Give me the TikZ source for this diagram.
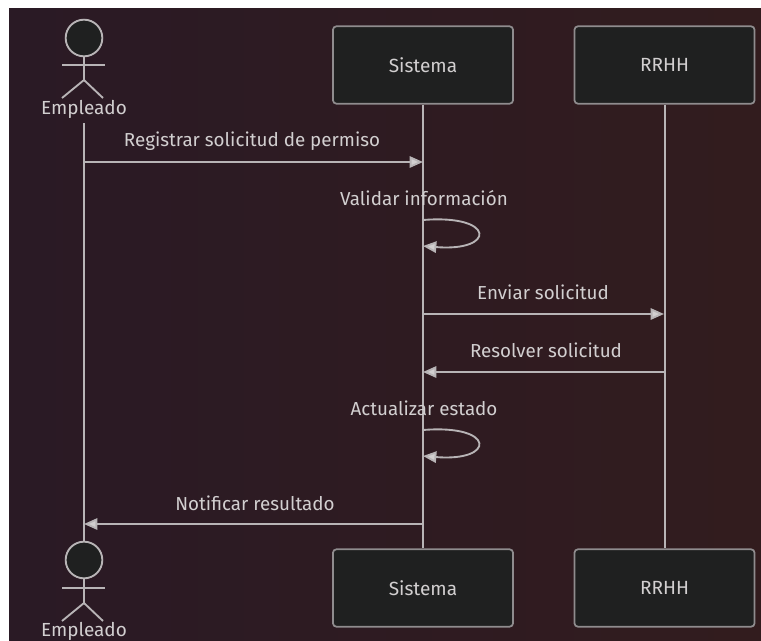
\documentclass[tikz,border=0pt]{standalone}
\usepackage{xcolor}
\usepackage{fontspec}
\setmainfont{Fira Sans}
\usetikzlibrary{arrows.meta}
\definecolor{bgleft}{HTML}{2A1A25}
\definecolor{bgright}{HTML}{321C1E}
\definecolor{boxfill}{HTML}{1F2020}
\definecolor{linegray}{HTML}{B8B4B6}
\definecolor{boxline}{HTML}{8F8C8E}
\definecolor{textgray}{HTML}{D2CFD0}
\tikzset{
    actorbox/.style={draw=boxline,fill=boxfill,line width=1.3pt,rounded corners=2.5pt,minimum width=135pt,minimum height=58pt,text=textgray,font=\fontsize{14.3}{16}\selectfont},
    actorhead/.style={circle,draw=linegray,fill=boxfill,line width=1.4pt,minimum size=27.5pt,inner sep=0pt},
    actorname/.style={text=textgray,font=\fontsize{14.2}{16}\selectfont,inner sep=0pt},
    stick/.style={draw=linegray,line width=1.4pt},
    lifeline/.style={draw=linegray,line width=1.5pt},
    msg/.style={draw=linegray,line width=1.4pt,-{Triangle[length=10pt,width=8.5pt,fill=textgray]}},
    msgtext/.style={text=textgray,font=\fontsize{14.1}{16}\selectfont,inner sep=0pt}
}
\begin{document}
\begin{tikzpicture}[x=0.75pt,y=-0.75pt]
            \useasboundingbox (0,0) rectangle (761,640);
            \fill[white] (0,0) rectangle (761,640);
            \shade[left color=bgleft,right color=bgright] (9,8) rectangle (761,640);

            \node[actorbox] (sistematop) at (423,65) {Sistema};
            \node[actorbox] (rrhhtop) at (664.5,65) {RRHH};
            \node[actorbox] (sistemabot) at (423,588) {Sistema};
            \node[actorbox] (rrhhbot) at (664.5,588) {RRHH};

            \node[actorhead] (headtop) at (84,38) {};
            \node[actorname] (nametop) at (84,109) {Empleado};
            \node[actorhead] (headbot) at (84,560) {};
            \node[actorname] (namebot) at (84,631) {Empleado};

            \coordinate (emplstart) at (84,123);
            \draw[lifeline] (emplstart) -- (headbot.north);
            \draw[lifeline] (sistematop.south) -- (sistemabot.north);
            \draw[lifeline] (rrhhtop.south) -- (rrhhbot.north);

            \coordinate (armtopl) at (62,65);
            \coordinate (armtopr) at (105,65);
            \coordinate (hiptop) at (84,80);
            \coordinate (legtopl) at (62,98);
            \coordinate (legtopr) at (103,98);
            \draw[stick] (headtop.south) -- (hiptop);
            \draw[stick] (armtopl) -- (armtopr);
            \draw[stick] (legtopl) -- (hiptop) -- (legtopr);

            \coordinate (armbotl) at (62,588);
            \coordinate (armbotr) at (105,588);
            \coordinate (hipbot) at (84,603);
            \coordinate (legbotl) at (62,621);
            \coordinate (legbotr) at (103,621);
            \draw[stick] (headbot.south) -- (hipbot);
            \draw[stick] (armbotl) -- (armbotr);
            \draw[stick] (legbotl) -- (hipbot) -- (legbotr);

            \coordinate (empl1) at (84,162);
            \coordinate (sis1) at (423,162);
            \coordinate (sis2) at (423,220);
            \coordinate (sis3) at (423,246);
            \coordinate (sis4) at (423,314);
            \coordinate (rh1) at (664,314);
            \coordinate (rh2) at (664,372);
            \coordinate (sis5) at (423,372);
            \coordinate (sis6) at (423,430);
            \coordinate (sis7) at (423,456);
            \coordinate (sis8) at (423,524);
            \coordinate (empl2) at (84,524);

            \draw[msg] (empl1) -- (sis1);
            \draw[msg] (sis2) .. controls (496,214) and (496,252) .. (sis3);
            \draw[msg] (sis4) -- (rh1);
            \draw[msg] (rh2) -- (sis5);
            \draw[msg] (sis6) .. controls (496,424) and (496,462) .. (sis7);
            \draw[msg] (sis8) -- (empl2);

            \node[msgtext] (registrar) at (252,141) {Registrar solicitud de permiso};
            \node[msgtext] (validar) at (424,198) {Validar información};
            \node[msgtext] (enviar) at (543,292) {Enviar solicitud};
            \node[msgtext] (resolver) at (546,350) {Resolver solicitud};
            \node[msgtext] (actualizar) at (424,408) {Actualizar estado};
            \node[msgtext] (notificar) at (255,503) {Notificar resultado};
        \end{tikzpicture}
\end{document}
